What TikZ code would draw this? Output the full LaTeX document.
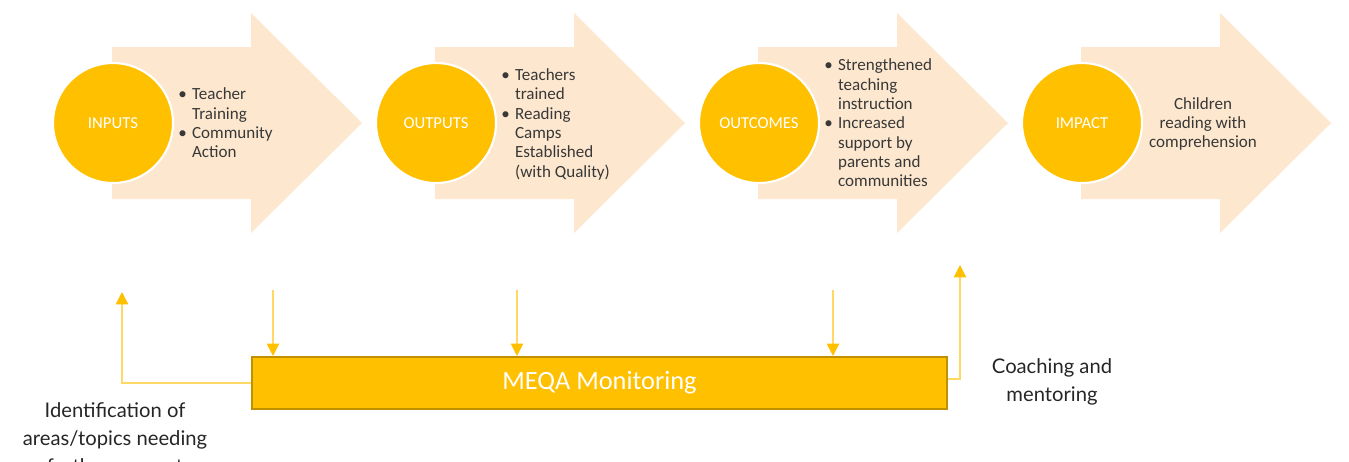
\documentclass[tikz,border=0pt]{standalone}
\usepackage{fontspec}
\setmainfont{Carlito}
\newfontfamily\notefont{Lato}
\usetikzlibrary{arrows.meta}
\definecolor{gold}{HTML}{FFC000}
\definecolor{darkgold}{HTML}{BF9000}
\definecolor{peach}{HTML}{FDE8CF}
\definecolor{paleline}{HTML}{FFD966}
\def\chevron{-- ++(139,0) -- ++(0,-34) -- ++(111,110) -- ++(-111,110) -- ++(0,-34) -- ++(-139,0) -- cycle}
\def\bl{\textbullet}

\tikzset{
  stage/.style={circle, fill=gold, draw=white, line width=1.2pt, minimum size=2.4cm,
                text=white, font=\fontsize{9.5}{11}\selectfont},
  points/.style={anchor=west, inner sep=0pt, text=black!78, font=\fontsize{9.7}{11}\selectfont},
  feed/.style={draw=paleline, line width=0.7pt, -{Triangle[width=7pt,length=7pt,color=gold]}},
  note/.style={align=center, inner sep=0pt, text=black!85, font=\notefont\fontsize{11.5}{16}\selectfont}
}

\begin{document}
\begin{tikzpicture}[x=0.02cm, y=-0.02cm]
                \useasboundingbox[fill=white] (0,0) rectangle (1349,461);
                \begin{scope}[shift={(112,0)}]
                    \fill[peach] (0,47) \chevron;
                    \node[stage] (inputs) at (1,123) {INPUTS};
                    \node[points] (inputs-list) at (66,125) {\begin{tabular}{@{}l@{\hspace{3pt}}l@{}}
                        \bl & Teacher\\ & Training\\ \bl & Community\\ & Action\end{tabular}};
                \end{scope}
                \begin{scope}[shift={(435,0)}]
                    \fill[peach] (0,47) \chevron;
                    \node[stage] (outputs) at (1,123) {OUTPUTS};
                    \node[points] (outputs-list) at (66,125) {\begin{tabular}{@{}l@{\hspace{3pt}}l@{}}
                        \bl & Teachers\\ & trained\\ \bl & Reading\\ & Camps\\ & Established\\ & (with Quality)\end{tabular}};
                \end{scope}
                \begin{scope}[shift={(758,0)}]
                    \fill[peach] (0,47) \chevron;
                    \node[stage] (outcomes) at (1,123) {OUTCOMES};
                    \node[points] (outcomes-list) at (66,125) {\begin{tabular}{@{}l@{\hspace{3pt}}l@{}}
                        \bl & Strengthened\\ & teaching\\ & instruction\\ \bl & Increased\\ & support by\\ & parents and\\ & communities\end{tabular}};
                \end{scope}
                \begin{scope}[shift={(1081,0)}]
                    \fill[peach] (0,47) \chevron;
                    \node[stage] (impact) at (1,123) {IMPACT};
                    \node[points, anchor=center, align=center] (impact-text) at (122,124) {Children\\reading with\\comprehension};
                \end{scope}

                \node[draw=darkgold, line width=1.2pt, fill=gold, minimum width=13.9cm, minimum height=1.04cm,
                      text=white, font=\fontsize{15}{18}\selectfont] (meqa) at (599.5,383) {MEQA Monitoring};

                \coordinate (d1) at (273,290);
                \coordinate (d2) at (517,290);
                \coordinate (d3) at (833,290);
                \coordinate (fb1) at (122,292);
                \coordinate (fb2) at (960,265);
                \draw[feed] (d1) -- (d1 |- meqa.north);
                \draw[feed] (d2) -- (d2 |- meqa.north);
                \draw[feed] (d3) -- (d3 |- meqa.north);
                \draw[feed] (meqa.west) -| (fb1);
                \draw[feed] ([yshift=0.08cm]meqa.east) -| (fb2);

                \node[note, anchor=north] (identify) at (115,402) {Identification of\\areas/topics needing\\further support};
                \node[note, anchor=north] (coaching) at (1052,358) {Coaching and\\mentoring};
            \end{tikzpicture}
\end{document}
